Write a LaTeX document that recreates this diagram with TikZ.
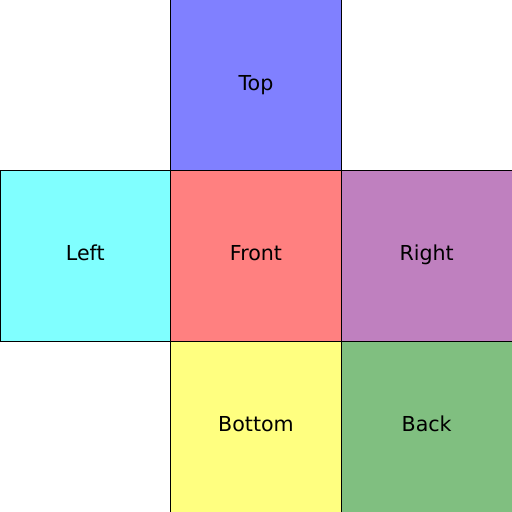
\documentclass[tikz,border=0pt]{standalone}
\usepackage{fontspec}
\setmainfont{DejaVu Sans}
\usetikzlibrary{positioning}
\definecolor{topblue}{RGB}{128,128,255}
\definecolor{leftcyan}{RGB}{128,255,255}
\definecolor{frontred}{RGB}{255,128,128}
\definecolor{rightviolet}{RGB}{191,128,191}
\definecolor{bottomyellow}{RGB}{255,255,128}
\definecolor{backgreen}{RGB}{128,191,128}
\tikzset{face/.style={draw=black,line width=0.5pt,minimum size=3cm,inner sep=0pt,outer sep=0pt,text height=1.6ex,text depth=0.7ex,font=\fontsize{10.3}{12}\selectfont}}
\begin{document}
\begin{tikzpicture}[node distance=0pt]
\useasboundingbox (0,0) rectangle (9,9);
\node[face,fill=frontred] (front) at (4.5,4.5) {Front};
\node[face,fill=topblue,above=of front] (top) {Top};
\node[face,fill=leftcyan,left=of front] (left) {Left};
\node[face,fill=rightviolet,right=of front] (right) {Right};
\node[face,fill=bottomyellow,below=of front] (bottom) {Bottom};
\node[face,fill=backgreen,right=of bottom] (back) {Back};
\end{tikzpicture}
\end{document}
